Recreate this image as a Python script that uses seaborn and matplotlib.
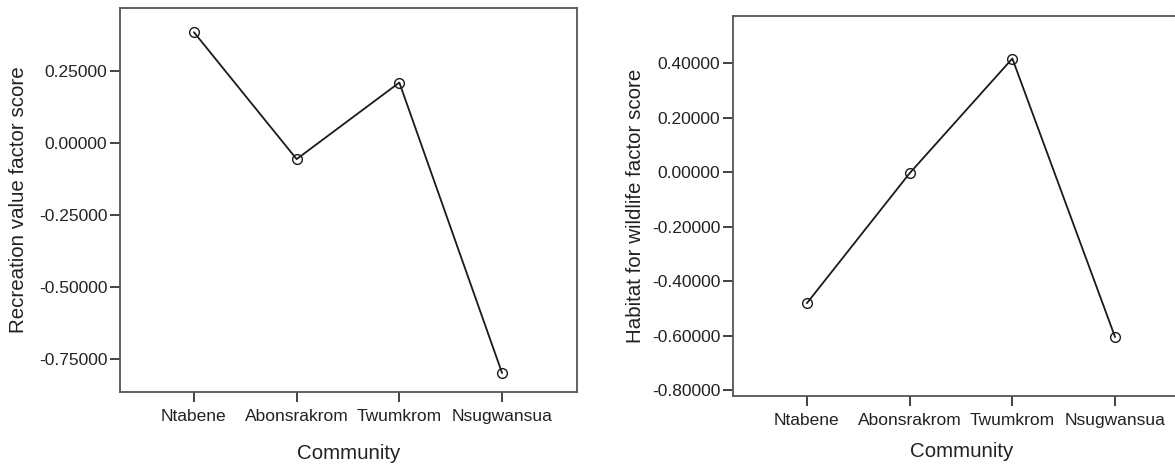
import matplotlib
matplotlib.use("Agg")
import matplotlib.pyplot as plt
import seaborn as sns
import pandas as pd

# data
community = ['Ntabene', 'Abonsrakrom', 'Twumkrom', 'Nsugwansua']
recreation = [0.385, -0.056, 0.210, -0.799]
habitat = [-0.481, -0.004, 0.417, -0.605]

rec_ticks = [0.25, 0.0, -0.25, -0.50, -0.75]
hab_ticks = [0.4, 0.2, 0.0, -0.2, -0.4, -0.6, -0.8]

df = pd.DataFrame({'Community': community, 'rec': recreation, 'hab': habitat})

sns.set_style('white')
plt.rcParams['font.family'] = ['Liberation Sans', 'DejaVu Sans']

fig = plt.figure(figsize=(11.75, 4.66), dpi=100)
ax1 = fig.add_axes([0.1021, 0.1588, 0.389, 0.824])
ax2 = fig.add_axes([0.6238, 0.150, 0.389, 0.815])

line_kw = dict(color='#1a1a1a', marker='o', markersize=7, markerfacecolor='none',
               markeredgewidth=1.0, linewidth=1.3)

sns.pointplot(data=df, x='Community', y='rec', ax=ax1, errorbar=None, **line_kw)
sns.pointplot(data=df, x='Community', y='hab', ax=ax2, errorbar=None, **line_kw)

for ax, ticks, lim, lab, ypad, xpad in [
    (ax1, rec_ticks, (-0.865, 0.469), 'Recreation value factor score', 8, 15),
    (ax2, hab_ticks, (-0.822, 0.572), 'Habitat for wildlife factor score', 5, 10),
]:
    ax.set_xlim(-0.72, 3.73)
    ax.set_ylim(*lim)
    ax.set_yticks(ticks)
    ax.set_yticklabels(['%.5f' % t for t in ticks])
    ax.set_xlabel('Community', fontsize=14.8, color='#222', labelpad=xpad)
    ax.set_ylabel(lab, fontsize=14.8, color='#222', labelpad=ypad)
    ax.tick_params(axis='both', direction='out', length=7, width=1.3,
                   color='#333', labelsize=12.5, labelcolor='#222', pad=2,
                   left=True, bottom=True)
    ax.tick_params(axis='x', pad=5)
    for s in ax.spines.values():
        s.set_visible(True)
        s.set_color('#555')
        s.set_linewidth(1.3)

fig.savefig('out.png', dpi=100)
